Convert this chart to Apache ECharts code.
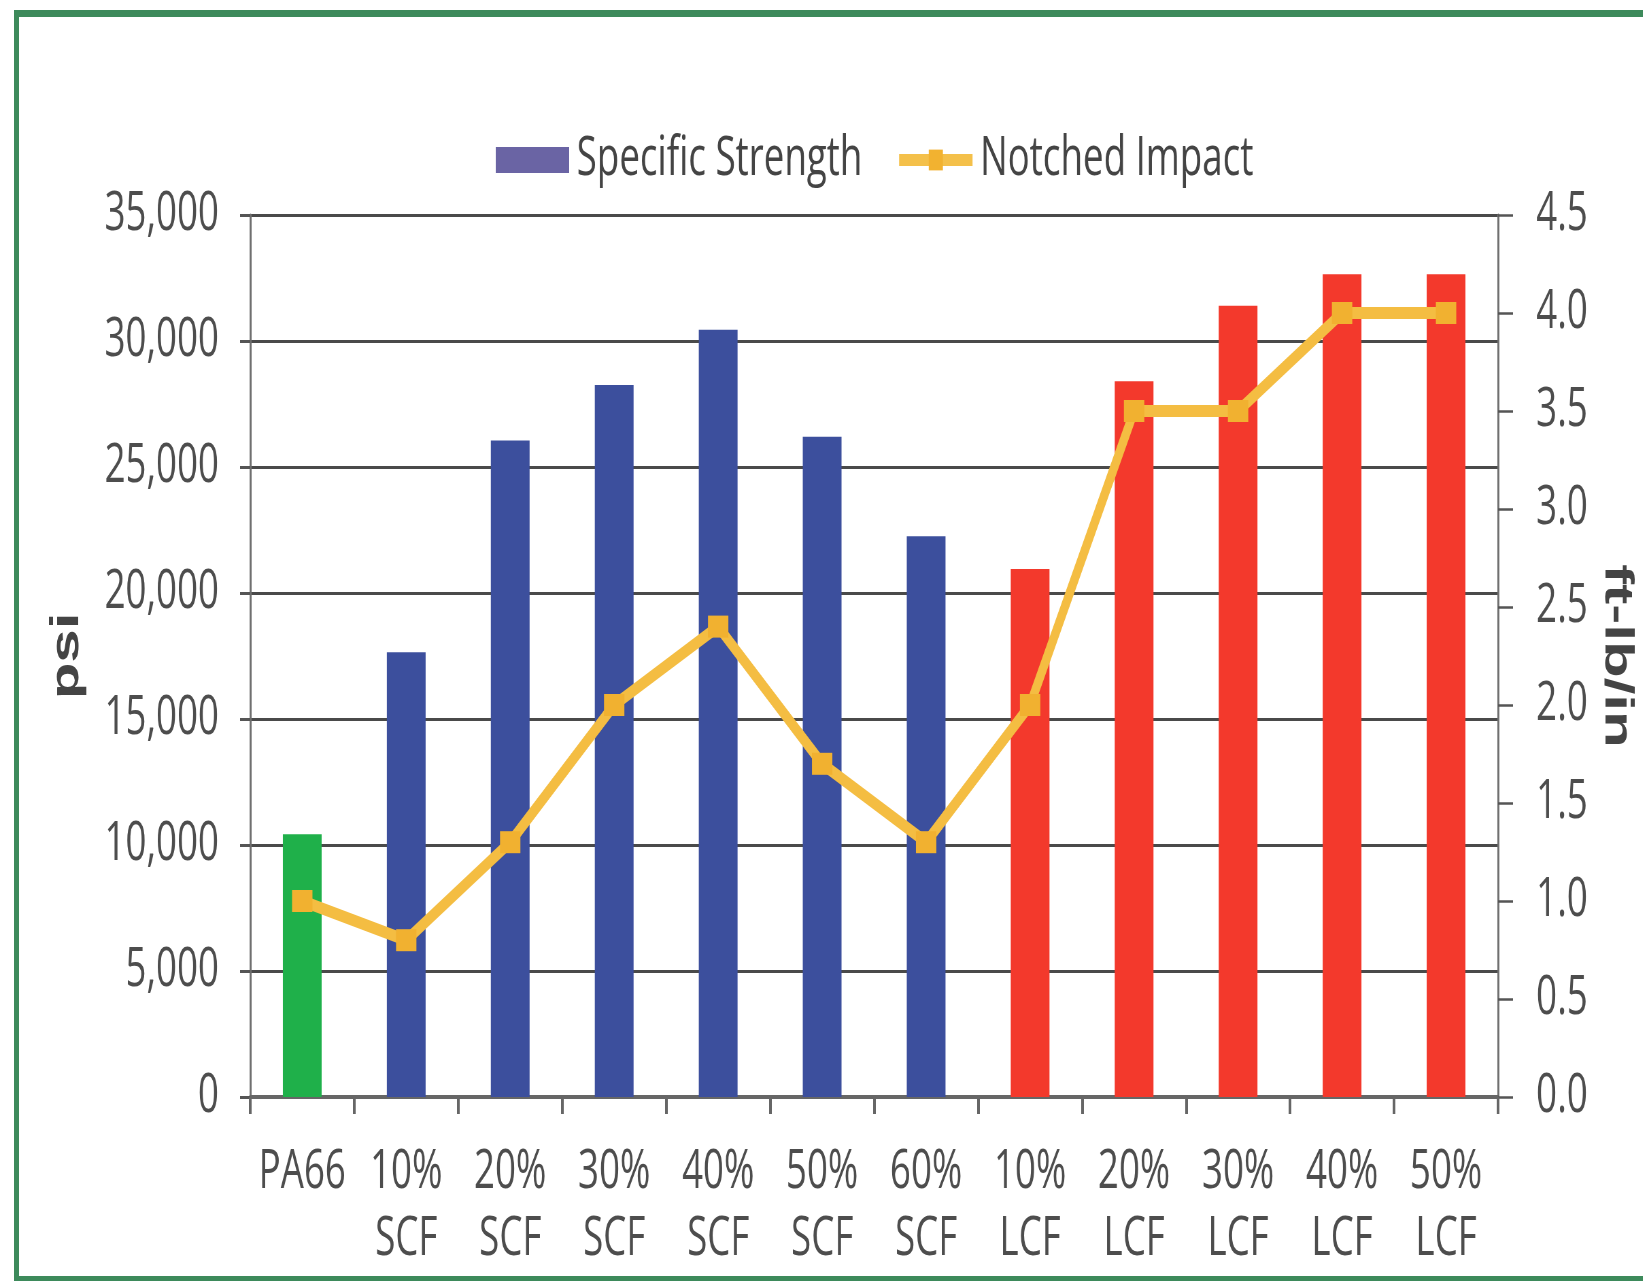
<!DOCTYPE html>
<html>
<head>
<meta charset="utf-8">
<script src="https://cdn.jsdelivr.net/npm/echarts@6/dist/echarts.min.js"></script>
<style>
  html, body { margin: 0; padding: 0; background: #ffffff; overflow: hidden; }
  #stage { position: relative; width: 1643px; height: 1286px; overflow: hidden; background: #ffffff; }
  #wrap { position: absolute; left: 0; top: 0; width: 2416px; height: 1286px; transform: scaleX(0.68); transform-origin: 0 0; }
  #chart { width: 2416px; height: 1286px; }
  .edge { position: absolute; background: #3d8a5b; pointer-events: none; }
  #edgeTop { left: 14px; top: 10px; width: 1680px; height: 7px; }
  #edgeLeft { left: 14px; top: 10px; width: 5px; height: 1271px; }
  #edgeBottom { left: 14px; top: 1276px; width: 1680px; height: 5px; }
</style>
</head>
<body>
<div id="stage">
  <div id="wrap"><div id="chart"></div></div>
  <div class="edge" id="edgeTop"></div>
  <div class="edge" id="edgeLeft"></div>
  <div class="edge" id="edgeBottom"></div>
</div>
<script>
// ---- data ----
const categories = ['PA66', '10%\nSCF', '20%\nSCF', '30%\nSCF', '40%\nSCF', '50%\nSCF', '60%\nSCF',
                    '10%\nLCF', '20%\nLCF', '30%\nLCF', '40%\nLCF', '50%\nLCF'];
const specificStrength = [10430, 17650, 26050, 28250, 30450, 26200, 22250, 20950, 28400, 31400, 32650, 32650];
const notchedImpact = [1.0, 0.8, 1.3, 2.0, 2.4, 1.7, 1.3, 2.0, 3.5, 3.5, 4.0, 4.0];
const leftTicks = [0, 5000, 10000, 15000, 20000, 25000, 30000, 35000];
const rightTicks = [0.0, 0.5, 1.0, 1.5, 2.0, 2.5, 3.0, 3.5, 4.0, 4.5];
const seriesNames = ['Specific Strength', 'Notched Impact'];

// ---- styling ----
const COLORS = { base: '#1fb04a', SCF: '#3c4f9d', LCF: '#f3392c' };
const colorFor = (cat) => cat.indexOf('LCF') >= 0 ? COLORS.LCF : (cat.indexOf('SCF') >= 0 ? COLORS.SCF : COLORS.base);
const FONT = "'Open Sans', 'Liberation Sans', Arial, sans-serif";
const BOLD_FONT = "'Liberation Sans', Arial, sans-serif";

const chart = echarts.init(document.getElementById('chart'), null, { renderer: 'canvas' });

const option = {
  animation: false,
  backgroundColor: 'transparent',
  legend: {
    left: 724,
    top: 128,
    itemWidth: 108,
    itemHeight: 26,
    itemGap: 48,
    textStyle: { fontFamily: FONT, fontSize: 54, color: '#444', padding: [0, 0, 0, 6] },
    data: [
      { name: seriesNames[0], icon: 'rect', itemStyle: { color: '#6a64a4' } },
      { name: seriesNames[1], lineStyle: { width: 12, color: '#f4c04a' }, itemStyle: { color: '#f2b230' } }
    ]
  },
  grid: { left: 368, right: 204, top: 215, bottom: 189, containLabel: false },
  xAxis: {
    type: 'category',
    data: categories,
    boundaryGap: true,
    axisLine: { show: true, lineStyle: { color: '#666', width: 4 } },
    axisTick: { show: true, length: 17, alignWithLabel: false, lineStyle: { color: '#666', width: 4 } },
    axisLabel: { fontFamily: FONT, fontSize: 54, lineHeight: 67, color: '#4d4d4d', margin: 42, interval: 0 },
    splitLine: { show: false }
  },
  yAxis: [
    {
      type: 'value',
      min: leftTicks[0],
      max: leftTicks[leftTicks.length - 1],
      interval: leftTicks[1] - leftTicks[0],
      name: 'psi',
      nameLocation: 'middle',
      nameRotate: 90,
      nameGap: 240,
      nameTextStyle: { fontFamily: BOLD_FONT, fontWeight: 'bold', fontSize: 60, color: '#444' },
      axisLine: { show: true, lineStyle: { color: '#707070', width: 3 } },
      axisTick: { show: true, length: 15, lineStyle: { color: '#555', width: 3 } },
      axisLabel: {
        fontFamily: FONT, fontSize: 54, color: '#4d4d4d', margin: 46,
        formatter: (v) => v.toLocaleString('en-US')
      },
      splitLine: { show: true, lineStyle: { color: '#4a4a4a', width: 3 } }
    },
    {
      type: 'value',
      min: rightTicks[0],
      max: rightTicks[rightTicks.length - 1],
      interval: rightTicks[1] - rightTicks[0],
      name: 'ft-lb/in',
      nameLocation: 'middle',
      nameRotate: -90,
      nameGap: 145,
      nameTextStyle: { fontFamily: BOLD_FONT, fontWeight: 'bold', fontSize: 60, color: '#444' },
      axisLine: { show: true, lineStyle: { color: '#707070', width: 3 } },
      axisTick: { show: true, length: 22, lineStyle: { color: '#555', width: 2.5 } },
      axisLabel: {
        fontFamily: FONT, fontSize: 54, color: '#4d4d4d', margin: 56,
        formatter: (v) => v.toFixed(1)
      },
      splitLine: { show: false }
    }
  ],
  series: [
    {
      name: seriesNames[0],
      type: 'bar',
      yAxisIndex: 0,
      barWidth: 57,
      itemStyle: { color: COLORS.SCF },
      data: specificStrength.map((v, i) => ({ value: v, itemStyle: { color: colorFor(categories[i]) } })),
      z: 2
    },
    {
      name: seriesNames[1],
      type: 'line',
      yAxisIndex: 1,
      data: notchedImpact,
      symbol: 'rect',
      symbolSize: [30, 22],
      lineStyle: { color: '#f4bd42', width: 12 },
      itemStyle: { color: '#f1b130' },
      z: 5
    }
  ]
};

chart.setOption(option);
</script>
</body>
</html>
